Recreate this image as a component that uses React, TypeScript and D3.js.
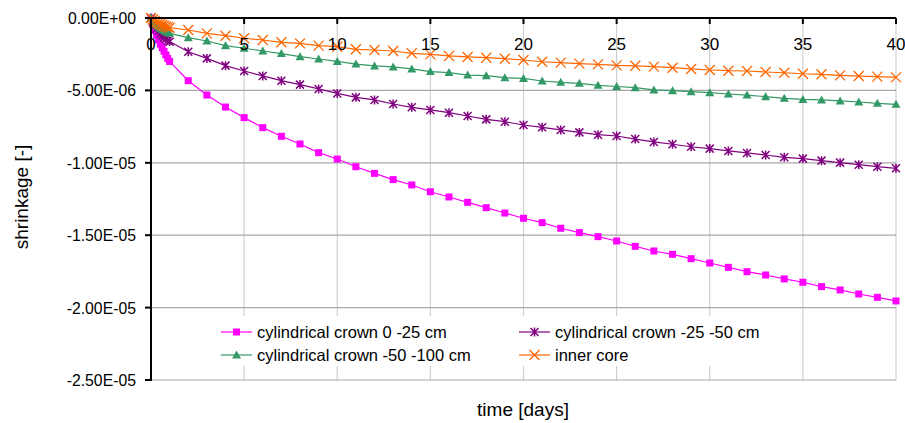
import React from "react";
import * as d3 from "d3";

// time in days: dense sampling during the first day, then daily
const timeDays: number[] = [
  0, 0.1, 0.2, 0.3, 0.4, 0.5, 0.6, 0.7, 0.8, 0.9, 1,
  2, 3, 4, 5, 6, 7, 8, 9, 10,
  11, 12, 13, 14, 15, 16, 17, 18, 19, 20,
  21, 22, 23, 24, 25, 26, 27, 28, 29, 30,
  31, 32, 33, 34, 35, 36, 37, 38, 39, 40,
];

// shrinkage values in units of 1e-6 [-]
const crown0to25: number[] = [
  0, -0.45, -0.85, -1.2, -1.5, -1.8, -2.05, -2.3, -2.55, -2.8, -3.0,
  -4.33, -5.32, -6.15, -6.88, -7.57, -8.17, -8.7, -9.3, -9.74,
  -10.27, -10.73, -11.16, -11.53, -12.0, -12.36, -12.73, -13.1, -13.47, -13.83,
  -14.13, -14.52, -14.82, -15.1, -15.4, -15.77, -16.09, -16.32, -16.62, -16.92,
  -17.22, -17.52, -17.75, -18.02, -18.25, -18.55, -18.78, -19.06, -19.29, -19.54,
];
const crown25to50: number[] = [
  0, -0.3, -0.55, -0.75, -0.92, -1.08, -1.22, -1.35, -1.45, -1.55, -1.63,
  -2.33, -2.79, -3.29, -3.66, -4.0, -4.33, -4.6, -4.9, -5.21,
  -5.48, -5.66, -5.94, -6.17, -6.35, -6.54, -6.77, -7.0, -7.16, -7.39,
  -7.55, -7.73, -7.9, -8.06, -8.15, -8.36, -8.56, -8.72, -8.89, -9.02,
  -9.18, -9.32, -9.46, -9.62, -9.71, -9.85, -9.99, -10.13, -10.27, -10.38,
];
const crown50to100: number[] = [
  0, -0.2, -0.37, -0.5, -0.6, -0.7, -0.78, -0.86, -0.93, -1.0, -1.06,
  -1.36, -1.59, -1.91, -2.09, -2.28, -2.46, -2.67, -2.83, -3.0,
  -3.18, -3.31, -3.38, -3.52, -3.7, -3.77, -3.94, -3.98, -4.12, -4.17,
  -4.35, -4.44, -4.51, -4.65, -4.73, -4.81, -4.97, -5.02, -5.09, -5.16,
  -5.25, -5.32, -5.43, -5.55, -5.62, -5.66, -5.73, -5.8, -5.89, -5.96,
];
const innerCore: number[] = [
  0, -0.1, -0.2, -0.28, -0.35, -0.42, -0.48, -0.54, -0.59, -0.63, -0.67,
  -0.83, -1.06, -1.22, -1.4, -1.52, -1.68, -1.75, -1.91, -1.98,
  -2.16, -2.21, -2.28, -2.44, -2.51, -2.62, -2.69, -2.74, -2.81, -2.9,
  -3.02, -3.08, -3.15, -3.2, -3.27, -3.3, -3.36, -3.43, -3.52, -3.59,
  -3.64, -3.66, -3.73, -3.78, -3.85, -3.89, -3.96, -4.01, -4.05, -4.1,
];

const seriesNames: string[] = [
  "cylindrical crown 0 -25 cm",
  "cylindrical crown -25 -50 cm",
  "cylindrical crown -50 -100 cm",
  "inner core",
];

const xTicks: number[] = [0, 5, 10, 15, 20, 25, 30, 35, 40];
const yTicks: number[] = [0, -5e-6, -1e-5, -1.5e-5, -2e-5, -2.5e-5];

const xTitle = "time [days]";
const yTitle = "shrinkage [-]";

const W = 905;
const H = 423;
const L = 151;
const R = 896;
const T = 18;
const B = 380;

const x = d3.scaleLinear().domain([0, 40]).range([L, R]);
const y = d3.scaleLinear().domain([-2.5e-5, 0]).range([B, T]);

const fmtY = (v: number) => {
  const s = v.toExponential(2); // e.g. -5.00e-6
  return s.replace(/e([+-])(\d+)$/, (_m, sign, dig) => "E" + sign + (dig.length < 2 ? "0" + dig : dig));
};

type Shape = "square" | "asterisk" | "triangle" | "cross";

const seriesDefs: { name: string; values: number[]; color: string; shape: Shape }[] = [
  { name: seriesNames[0], values: crown0to25, color: "#ff00ff", shape: "square" },
  { name: seriesNames[1], values: crown25to50, color: "#800080", shape: "asterisk" },
  { name: seriesNames[2], values: crown50to100, color: "#339966", shape: "triangle" },
  { name: seriesNames[3], values: innerCore, color: "#ff6600", shape: "cross" },
];

function Marker({ shape, cx, cy, color }: { shape: Shape; cx: number; cy: number; color: string }) {
  if (shape === "square") {
    return <rect x={cx - 3.5} y={cy - 3.5} width={7} height={7} fill={color} />;
  }
  if (shape === "triangle") {
    return (
      <path
        d={`M${cx},${cy - 4.5}L${cx + 4.5},${cy + 3.5}L${cx - 4.5},${cy + 3.5}Z`}
        fill={color}
      />
    );
  }
  if (shape === "asterisk") {
    const r = 4;
    return (
      <path
        d={`M${cx - r},${cy - r}L${cx + r},${cy + r}M${cx - r},${cy + r}L${cx + r},${cy - r}M${cx},${cy - r - 0.5}L${cx},${cy + r + 0.5}`}
        stroke={color}
        strokeWidth={1.5}
        fill="none"
      />
    );
  }
  const r = 5;
  return (
    <path
      d={`M${cx - r},${cy - r}L${cx + r},${cy + r}M${cx - r},${cy + r}L${cx + r},${cy - r}`}
      stroke={color}
      strokeWidth={1.3}
      fill="none"
    />
  );
}

export default function App() {
  const line = d3
    .line<number>()
    .x((_d, i) => x(timeDays[i]))
    .y((d) => y(d * 1e-6));

  const legendItems = [
    { s: seriesDefs[0], lx: 221, ly: 332 },
    { s: seriesDefs[1], lx: 519, ly: 332 },
    { s: seriesDefs[2], lx: 221, ly: 355 },
    { s: seriesDefs[3], lx: 519, ly: 355 },
  ];

  return (
    <svg
      width={W}
      height={H}
      style={{ position: "absolute", left: 0, top: 0, background: "#fff" }}
      fontFamily="'Liberation Sans', Arial, sans-serif"
    >
      <rect x={0} y={0} width={W} height={H} fill="#fff" />
      {/* vertical gridlines */}
      {xTicks.slice(1).map((t) => (
        <line key={"vx" + t} x1={x(t)} x2={x(t)} y1={T} y2={B} stroke="#d0d0d0" strokeWidth={1.2} />
      ))}
      {/* horizontal gridlines */}
      {yTicks.slice(1).map((t) => (
        <line key={"hy" + t} x1={L} x2={R} y1={y(t)} y2={y(t)} stroke="#a8a8a8" strokeWidth={1.2} />
      ))}
      {/* legend background */}
      <rect x={212} y={316} width={573} height={50} fill="#fff" />

      {/* series */}
      {seriesDefs.map((s) => (
        <g key={s.name}>
          <path d={line(s.values) || ""} fill="none" stroke={s.color} strokeWidth={1.2} />
          {s.values.map((v, i) => (
            <Marker key={i} shape={s.shape} cx={x(timeDays[i])} cy={y(v * 1e-6)} color={s.color} />
          ))}
        </g>
      ))}

      {/* axes */}
      <line x1={L} x2={R} y1={T} y2={T} stroke="#000" strokeWidth={2} />
      <line x1={L} x2={L} y1={T - 1} y2={B + 1} stroke="#000" strokeWidth={2} />
      {xTicks.map((t) => (
        <g key={"xt" + t}>
          <line x1={x(t)} x2={x(t)} y1={T} y2={T + 6} stroke="#000" strokeWidth={2} />
          <text x={x(t)} y={49.5} fontSize={17} textAnchor="middle" fill="#000">
            {String(t)}
          </text>
        </g>
      ))}
      {yTicks.map((t) => (
        <g key={"yt" + t}>
          <line x1={L - 6} x2={L} y1={y(t)} y2={y(t)} stroke="#000" strokeWidth={2} />
          <text x={136} y={y(t) + 6} fontSize={15.8} textAnchor="end" fill="#000">
            {fmtY(t)}
          </text>
        </g>
      ))}

      {/* legend */}
      {legendItems.map(({ s, lx, ly }) => (
        <g key={"lg" + s.name}>
          <line x1={lx} x2={lx + 31} y1={ly} y2={ly} stroke={s.color} strokeWidth={1.2} />
          <Marker shape={s.shape} cx={lx + 15.5} cy={ly} color={s.color} />
          <text x={lx + 36} y={ly + 5.5} fontSize={16.5} fill="#000">
            {s.name}
          </text>
        </g>
      ))}

      {/* titles */}
      <text x={523} y={416} fontSize={19} textAnchor="middle" fill="#000">
        {xTitle}
      </text>
      <text
        transform={`translate(28,197) rotate(-90)`}
        fontSize={19}
        textAnchor="middle"
        fill="#000"
      >
        {yTitle}
      </text>
    </svg>
  );
}
